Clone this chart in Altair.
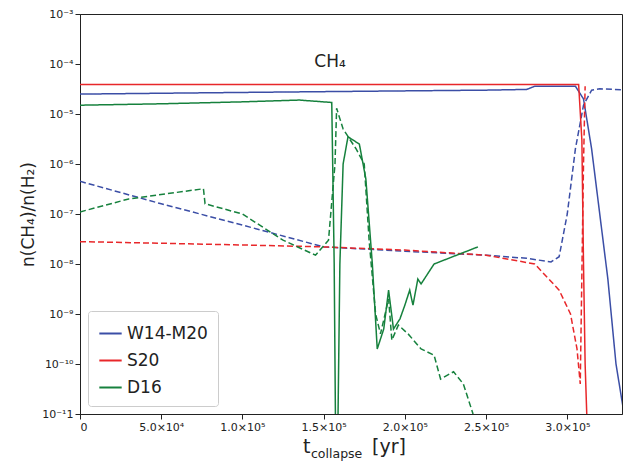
import altair as alt
import pandas as pd

bs_x = [0, 5e4, 1e5, 1.5e5, 2e5, 2.5e5, 2.75e5, 2.8e5, 3.05e5, 3.1e5, 3.15e5, 3.2e5, 3.25e5, 3.3e5, 3.35e5]
bs_y = [2.5e-5, 2.6e-5, 2.7e-5, 2.8e-5, 2.9e-5, 3.0e-5, 3.1e-5, 3.6e-5, 3.6e-5, 2e-5, 2e-6, 1e-7, 5e-9, 1e-10, 1e-11]
bd_x = [0, 5e4, 1e5, 1.5e5, 2e5, 2.5e5, 2.75e5, 2.9e5, 2.95e5, 3.0e5, 3.05e5, 3.1e5, 3.15e5, 3.2e5, 3.4e5]
bd_y = [4.5e-7, 1.6e-7, 6e-8, 2.2e-8, 1.8e-8, 1.5e-8, 1.3e-8, 1.1e-8, 1.4e-8, 1e-7, 2e-6, 1.5e-5, 3e-5, 3.2e-5, 3e-5]
rs_x = [0, 1e5, 2e5, 3.07e5, 3.09e5, 3.1e5, 3.11e5, 3.12e5]
rs_y = [3.9e-5, 3.9e-5, 3.9e-5, 3.9e-5, 3e-6, 1e-8, 1e-10, 1e-11]
rd_x = [0, 5e4, 1e5, 1.5e5, 2e5, 2.5e5, 2.8e5, 2.95e5, 3.02e5, 3.06e5, 3.08e5, 3.1e5, 3.11e5]
rd_y = [2.8e-8, 2.6e-8, 2.4e-8, 2.2e-8, 1.9e-8, 1.5e-8, 1e-8, 3e-9, 1e-9, 2e-10, 4e-11, 1e-6, 3.6e-5]
gs_x = [0, 5e4, 1e5, 1.35e5, 1.55e5, 1.565e5, 1.575e5, 1.585e5, 1.6e5, 1.62e5, 1.65e5, 1.72e5, 1.76e5, 1.8e5, 1.83e5, 1.87e5, 1.9e5, 1.93e5, 1.97e5, 2.0e5, 2.03e5, 2.05e5, 2.08e5, 2.1e5, 2.18e5, 2.45e5]
gs_y = [1.5e-5, 1.6e-5, 1.75e-5, 1.9e-5, 1.7e-5, 1e-8, 1e-12, 1e-12, 1e-8, 1e-6, 3.5e-6, 2.5e-6, 5e-7, 1e-8, 2e-10, 5e-10, 3e-9, 5e-10, 8e-10, 1.5e-9, 3e-9, 1.5e-9, 5e-9, 4e-9, 1e-8, 2.2e-8]
gd_x = [0, 3e4, 7.6e4, 7.7e4, 1e5, 1.25e5, 1.45e5, 1.53e5, 1.57e5, 1.58e5, 1.62e5, 1.7e5, 1.75e5, 1.78e5, 1.82e5, 1.85e5, 1.9e5, 1.92e5, 1.96e5, 2.02e5, 2.1e5, 2.18e5, 2.22e5, 2.3e5, 2.36e5, 2.42e5]
gd_y = [1.1e-7, 2e-7, 3.2e-7, 1.6e-7, 1e-7, 3e-8, 1.5e-8, 3e-8, 1e-6, 1.3e-5, 5e-6, 2e-6, 1e-6, 3e-8, 1e-9, 4e-10, 2e-9, 3e-10, 6e-10, 4e-10, 2e-10, 1.5e-10, 5e-11, 7e-11, 4e-11, 1e-11]

rows = []
for name, style, xs, ys in [("W14-M20", "s", bs_x, bs_y), ("W14-M20", "d", bd_x, bd_y),
                            ("S20", "s", rs_x, rs_y), ("S20", "d", rd_x, rd_y),
                            ("D16", "s", gs_x, gs_y), ("D16", "d", gd_x, gd_y)]:
    for i, (a, b) in enumerate(zip(xs, ys)):
        rows.append({"series": name, "style": style, "key": name + style, "i": i, "x": a, "y": b})
df = pd.DataFrame(rows)

names = ["W14-M20", "S20", "D16"]
colors = ["#3b4ea6", "#e8272a", "#16813d"]
font = "DejaVu Sans"

xlab = "datum.value == 0 ? '0' : format(datum.value / pow(10, floor(log(datum.value)/LN10)), '.1f') + '×10' + (floor(log(datum.value)/LN10) == 4 ? '⁴' : '⁵')"
ylab = "'10' + replace(replace(replace(replace(replace(replace(replace(replace(replace(replace(replace('' + round(log(datum.value)/LN10), '-', '⁻'), '0', '⁰'), '1', '¹'), '2', '²'), '3', '³'), '4', '⁴'), '5', '⁵'), '6', '⁶'), '7', '⁷'), '8', '⁸'), '9', '⁹')"

lines = alt.Chart(df).mark_line(strokeWidth=1.5, clip=True).encode(
    x=alt.X("x:Q", scale=alt.Scale(domain=[0, 3.337e5], nice=False),
            axis=alt.Axis(values=[0, 5e4, 1e5, 1.5e5, 2e5, 2.5e5, 3e5], labelExpr=xlab, title=None,
                          grid=False, labelFont=font, labelFontSize=11, labelColor="#222", domainColor="#222", tickColor="#222")),
    y=alt.Y("y:Q", scale=alt.Scale(type="log", domain=[1e-11, 1e-3], nice=False),
            axis=alt.Axis(values=[10.0**-k for k in range(3, 12)], labelExpr=ylab, title="n(CH₄)/n(H₂)",
                          titleFont=font, titleFontSize=17, titleFontWeight="normal", titleColor="#222",
                          grid=False, labelFont=font, labelFontSize=11, labelColor="#222", domainColor="#222", tickColor="#222")),
    color=alt.Color("series:N", scale=alt.Scale(domain=names, range=colors),
                    legend=alt.Legend(title=None, orient="bottom-left", symbolType="stroke", symbolSize=500,
                                      symbolStrokeWidth=2, labelFontSize=17, labelFont=font, labelColor="#222",
                                      strokeColor="#ccc", fillColor="white", padding=10, cornerRadius=3,
                                      rowPadding=6, offset=8)),
    strokeDash=alt.StrokeDash("style:N", scale=alt.Scale(domain=["s", "d"], range=[[1, 0], [6, 3]]), legend=None),
    detail="key:N",
    order="i:Q",
)

ttl = alt.Chart(pd.DataFrame({"t": ["CH₄"]})).mark_text(font=font, fontSize=17, color="#222").encode(
    text="t:N", x=alt.value(250), y=alt.value(48))
xt1 = alt.Chart(pd.DataFrame({"t": ["t"]})).mark_text(font=font, fontSize=19, color="#222", align="left", baseline="alphabetic").encode(
    text="t:N", x=alt.value(223), y=alt.value(439))
xt2 = alt.Chart(pd.DataFrame({"t": ["collapse"]})).mark_text(font=font, fontSize=12.5, color="#222", align="left", baseline="alphabetic").encode(
    text="t:N", x=alt.value(231), y=alt.value(444))
xt3 = alt.Chart(pd.DataFrame({"t": ["[yr]"]})).mark_text(font=font, fontSize=19, color="#222", align="left", baseline="alphabetic").encode(
    text="t:N", x=alt.value(292), y=alt.value(439))

chart = alt.layer(lines, ttl, xt1, xt2, xt3).properties(
    width=542, height=400, autosize=alt.AutoSizeParams(type="none"),
    padding={"left": 72, "top": 6, "right": 10, "bottom": 48}
).configure_view(stroke="#222")

chart.save("out.html", embed_options={"renderer": "svg", "actions": False})
